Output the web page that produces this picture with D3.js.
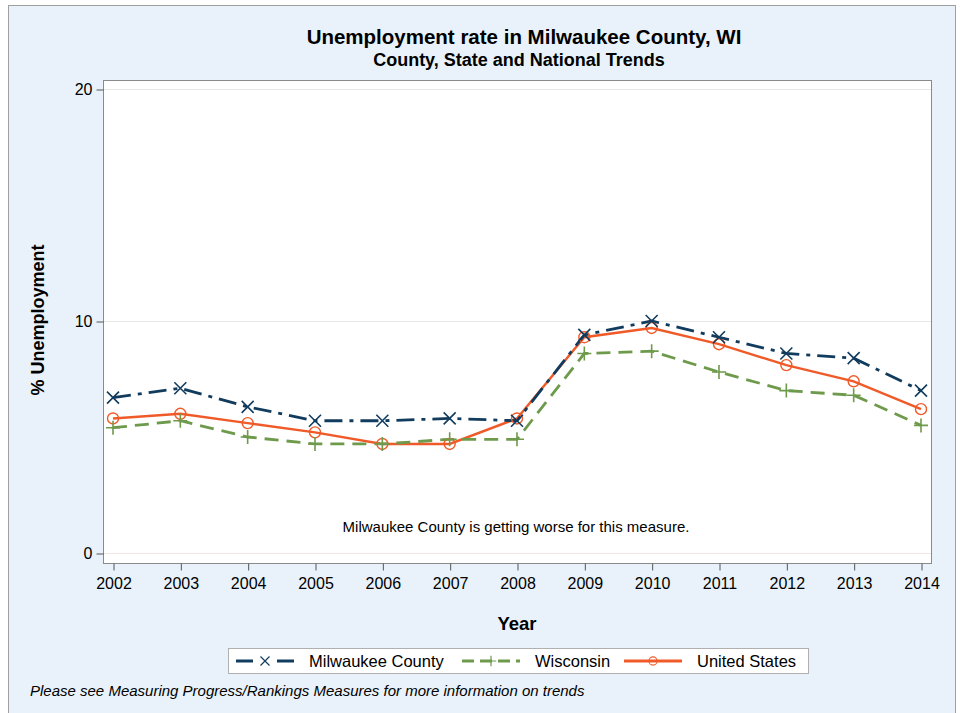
<!DOCTYPE html>
<html>
  <head>
    <script src="https://d3js.org/d3.v7.min.js" charset="utf-8"></script>
    <meta charset="UTF-8">
    <title>Unemployment rate in Milwaukee County, WI</title>
    <style>
      body { margin: 0; background: #fff; }
      text { font-family: "Liberation Sans", Arial, sans-serif; fill: #000; }
    </style>
  </head>
  <body>
    <svg class="chart"></svg>
    <script type="text/javascript">

      var years = [2002, 2003, 2004, 2005, 2006, 2007, 2008, 2009, 2010, 2011, 2012, 2013, 2014];
      var milwaukee = [6.7, 7.1, 6.3, 5.7, 5.7, 5.8, 5.7, 9.4, 10.0, 9.3, 8.6, 8.4, 7.0];
      var wisconsin = [5.4, 5.7, 5.0, 4.7, 4.7, 4.9, 4.9, 8.6, 8.7, 7.8, 7.0, 6.8, 5.5];
      var unitedStates = [5.8, 6.0, 5.6, 5.2, 4.7, 4.7, 5.8, 9.3, 9.7, 9.0, 8.1, 7.4, 6.2];
      var yTicks = [0, 10, 20];

      var width = 962,
          height = 713,
          plot = {left: 103, top: 80, right: 931, bottom: 563};

      var series = [
        {name: "Milwaukee County", values: milwaukee, color: "#123c5e", dash: "18,7,4,7", legendDash: "17,24,17", marker: "x"},
        {name: "Wisconsin", values: wisconsin, color: "#6e9a4c", dash: "14,8", legendDash: "12,6", marker: "plus"},
        {name: "United States", values: unitedStates, color: "#f05a28", dash: null, legendDash: null, marker: "circle"}
      ];

      var chart = d3.select(".chart")
          .attr("width", width)
          .attr("height", height);

      // frame
      chart.append("rect")
          .attr("x", 8.5).attr("y", 5.5)
          .attr("width", 947).attr("height", 720)
          .attr("fill", "#e9f2fa")
          .attr("stroke", "#a0a0a0");

      chart.append("rect")
          .attr("x", plot.left + 0.5).attr("y", plot.top + 0.5)
          .attr("width", plot.right - plot.left).attr("height", plot.bottom - plot.top)
          .attr("fill", "#fff");

      var x = d3.scaleLinear().domain([2002, 2014]).range([113, 921]);
      var y = d3.scaleLinear().domain([0, 20]).range([553, 89]);

      // grid
      chart.append("g").selectAll("line")
          .data(yTicks)
          .enter().append("line")
          .attr("x1", plot.left + 1).attr("x2", plot.right)
          .attr("y1", function(d) { return y(d) + 0.5; })
          .attr("y2", function(d) { return y(d) + 0.5; })
          .attr("stroke", function(d) { return d === 0 ? "#f3e6e0" : "#e6e9e4"; });

      chart.append("rect")
          .attr("x", plot.left + 0.5).attr("y", plot.top + 0.5)
          .attr("width", plot.right - plot.left).attr("height", plot.bottom - plot.top)
          .attr("fill", "none")
          .attr("stroke", "#8a8a8a");

      var yAxis = chart.append("g")
          .attr("transform", "translate(" + (plot.left + 0.5) + ",0.5)")
          .call(d3.axisLeft(y).tickValues(yTicks).tickSize(7).tickSizeOuter(0).tickPadding(4));
      yAxis.select(".domain").remove();
      yAxis.selectAll(".tick line").attr("stroke", "#555");
      yAxis.selectAll("text").style("font-size", "16px").attr("fill", "#000");

      var xAxis = chart.append("g")
          .attr("transform", "translate(0.5," + (plot.bottom + 0.5) + ")")
          .call(d3.axisBottom(x).tickValues(years).tickFormat(d3.format("d")).tickSize(7).tickSizeOuter(0).tickPadding(7));
      xAxis.select(".domain").remove();
      xAxis.selectAll(".tick line").attr("stroke", "#555");
      xAxis.selectAll("text").style("font-size", "16px").attr("fill", "#000");

      // titles
      chart.append("text")
          .attr("x", 524).attr("y", 44)
          .attr("text-anchor", "middle")
          .style("font-size", "20.5px").style("font-weight", "bold")
          .text("Unemployment rate in Milwaukee County, WI");

      chart.append("text")
          .attr("x", 519).attr("y", 66)
          .attr("text-anchor", "middle")
          .style("font-size", "18px").style("font-weight", "bold")
          .text("County, State and National Trends");

      chart.append("text")
          .attr("transform", "translate(44,320) rotate(-90)")
          .attr("text-anchor", "middle")
          .style("font-size", "18px").style("font-weight", "bold")
          .text("% Unemployment");

      chart.append("text")
          .attr("x", 517).attr("y", 630)
          .attr("text-anchor", "middle")
          .style("font-size", "18.5px").style("font-weight", "bold")
          .text("Year");

      chart.append("text")
          .attr("x", 516).attr("y", 532)
          .attr("text-anchor", "middle")
          .style("font-size", "15px")
          .text("Milwaukee County is getting worse for this measure.");

      chart.append("text")
          .attr("x", 30).attr("y", 696)
          .style("font-size", "15px").style("font-style", "italic")
          .text("Please see Measuring Progress/Rankings Measures for more information on trends");

      // series
      var line = d3.line()
          .x(function(d, i) { return x(years[i]); })
          .y(function(d) { return y(d); });

      function drawMarker(g, type, color) {
        if (type === "x") {
          g.append("path").attr("d", "M-6,-6L6,6M-6,6L6,-6")
              .attr("stroke", color).attr("stroke-width", 1.6).attr("fill", "none");
        } else if (type === "plus") {
          g.append("path").attr("d", "M-7,0L7,0M0,-7L0,7")
              .attr("stroke", color).attr("stroke-width", 1.6).attr("fill", "none");
        } else {
          g.append("circle").attr("r", 5.5)
              .attr("stroke", color).attr("stroke-width", 1.4).attr("fill", "none");
        }
      }

      var lines = chart.append("g").attr("class", "lines");
      series.slice().reverse().forEach(function(s) {
        lines.append("path")
            .datum(s.values)
            .attr("d", line)
            .attr("fill", "none")
            .attr("stroke", s.color)
            .attr("stroke-width", s.marker === "circle" ? 2.4 : 2.8)
            .attr("stroke-dasharray", s.dash);
      });
      series.slice().reverse().forEach(function(s) {
        lines.selectAll(null)
            .data(s.values)
            .enter().append("g")
            .attr("transform", function(d, i) { return "translate(" + x(years[i]) + "," + y(d) + ")"; })
            .each(function() { drawMarker(d3.select(this), s.marker, s.color); });
      });

      // legend
      var legend = chart.append("g");
      legend.append("rect")
          .attr("x", 228.5).attr("y", 648.5)
          .attr("width", 580).attr("height", 25)
          .attr("fill", "#fff").attr("stroke", "#b0b0b0");

      var legendX = [236, 462, 624];
      series.forEach(function(s, i) {
        var g = legend.append("g").attr("transform", "translate(" + legendX[i] + ",661)");
        g.append("line")
            .attr("x1", 0).attr("x2", 58)
            .attr("stroke", s.color)
            .attr("stroke-width", 2.8)
            .attr("stroke-dasharray", s.legendDash);
        var m = g.append("g").attr("transform", "translate(29,0) scale(0.75)");
        drawMarker(m, s.marker, s.color);
        g.append("text")
            .attr("x", 73).attr("y", 6)
            .style("font-size", "16.5px")
            .text(s.name);
      });

    </script>
  </body>
</html>
